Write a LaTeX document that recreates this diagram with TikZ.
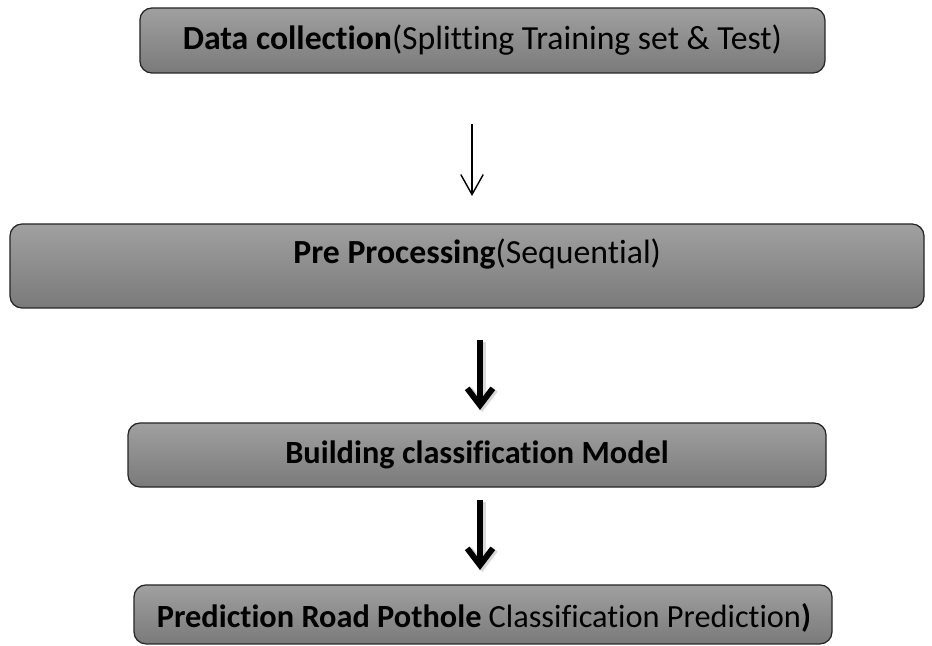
\documentclass[tikz,border=0pt]{standalone}
\usepackage{fontspec}
\setmainfont{Carlito}[Ligatures=NoCommon]
\usepackage{tikz}
\usetikzlibrary{arrows.meta}

\definecolor{boxtop}{RGB}{160,160,160}
\definecolor{boxbot}{RGB}{122,122,122}

\begin{document}
\begin{tikzpicture}[
  stagebox/.style={rectangle, rounded corners=0.3cm, draw=black!85, line width=0.9pt,
    top color=boxtop, bottom color=boxbot, inner sep=0pt},
  stagetext/.style={font=\fontsize{24}{28}\selectfont, inner sep=0pt},
  smalltext/.style={font=\fontsize{23}{27}\selectfont, inner sep=0pt},
  thinarrow/.style={line width=1pt, -{Straight Barb[length=5mm, width=5.6mm]}},
  thickarrow/.style={line width=4.2pt, -{Straight Barb[length=4.2mm, width=6.4mm]}},
  shadowarrow/.style={line width=5pt, black!15, -{Straight Barb[length=4.2mm, width=6.4mm]}}
]
\useasboundingbox (0,0) rectangle (23.3,-16.15);

\node[stagebox, minimum width=17.125cm, minimum height=1.625cm] (collect) at (12.06,-1.0125) {};
\node[stagetext] (collecttxt) at (collect.center) {\textbf{Data collection}(Splitting Training set \& Test)};

\node[stagebox, minimum width=22.85cm, minimum height=2.1cm] (preproc) at (11.675,-6.65) {};
\node[stagetext] (preproctxt) at (11.93,-6.35) {\textbf{Pre Processing}(Sequential)};

\node[stagebox, minimum width=17.45cm, minimum height=1.6cm] (model) at (11.925,-11.375) {};
\node[smalltext] (modeltxt) at (model.center) {\textbf{Building classification Model}};

\node[stagebox, minimum width=17.45cm, minimum height=1.475cm] (predict) at (12.075,-15.36) {};
\node[smalltext] (predicttxt) at (12.1,-15.45) {\textbf{Prediction Road Pothole} Classification Prediction\textbf{)}};

\coordinate (a1s) at (11.8,-3.1);
\coordinate (a1e) at (11.8,-4.9);
\coordinate (a2s) at (12.0,-8.5);
\coordinate (a2e) at (12.0,-10.25);
\coordinate (a3s) at (12.0,-12.5);
\coordinate (a3e) at (12.0,-14.25);

\draw[thinarrow] (a1s) -- (a1e);
\draw[shadowarrow] ([xshift=1.5pt,yshift=-1.5pt]a2s) -- ([xshift=1.5pt,yshift=-1.5pt]a2e);
\draw[thickarrow] (a2s) -- (a2e);
\draw[shadowarrow] ([xshift=1.5pt,yshift=-1.5pt]a3s) -- ([xshift=1.5pt,yshift=-1.5pt]a3e);
\draw[thickarrow] (a3s) -- (a3e);
\end{tikzpicture}
\end{document}
